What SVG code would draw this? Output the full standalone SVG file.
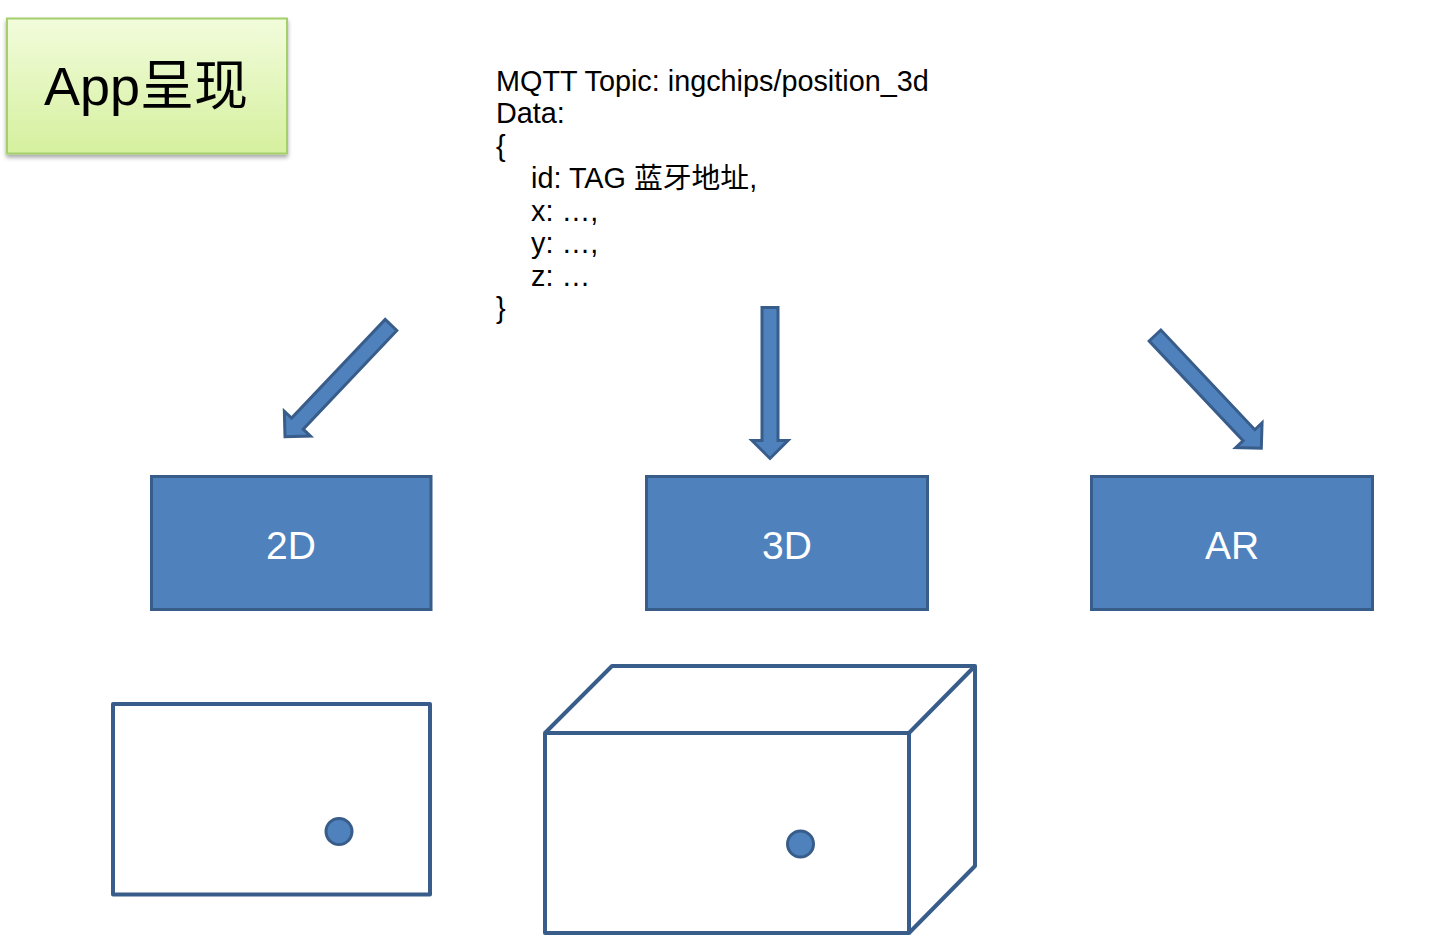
<svg xmlns="http://www.w3.org/2000/svg" width="1432" height="944" viewBox="0 0 1432 944">
<style>
.blk{fill:#4f81bd;stroke:#385d8a;stroke-width:3;stroke-linejoin:miter}
.lbl{font-family:"Liberation Sans",Arial,sans-serif;font-size:39px;fill:#ffffff;text-anchor:middle}
.out{fill:none;stroke:#385d8a;stroke-width:4;stroke-linejoin:round}
.dot{fill:#4f81bd;stroke:#385d8a;stroke-width:3}
.mq{font-family:"Liberation Sans",Arial,"Noto Sans CJK SC",sans-serif;font-size:28.8px;fill:#000000}
</style>
<defs>
<linearGradient id="g" x1="0" y1="0" x2="0" y2="1">
<stop offset="0" stop-color="#f2fcdc"/>
<stop offset="1" stop-color="#d5f09e"/>
</linearGradient>
<filter id="sh" x="-10%" y="-10%" width="120%" height="130%">
<feDropShadow dx="0" dy="3" stdDeviation="2" flood-color="#000" flood-opacity="0.35"/>
</filter>
</defs>
<g id="title">
<rect x="7" y="18.5" width="280" height="135" fill="url(#g)" stroke="#a4cf6c" stroke-width="2" filter="url(#sh)"/>
<text x="146" y="105" font-family="'Liberation Sans','Noto Sans CJK SC',sans-serif" font-size="54" text-anchor="middle" fill="#000">App呈现</text>
</g>
<g id="mqtt">
<text class="mq" x="496" y="90.5">MQTT Topic: ingchips/position_3d</text>
<text class="mq" x="496" y="123">Data:</text>
<text class="mq" x="496" y="155.5">{</text>
<text class="mq" x="531" y="188">id: TAG 蓝牙地址,</text>
<text class="mq" x="531" y="220.5">x: …,</text>
<text class="mq" x="531" y="253">y: …,</text>
<text class="mq" x="531" y="285.5">z: …</text>
<text class="mq" x="496" y="318">}</text>
</g>
<g id="connectors">
<path class="blk" transform="translate(391,325) rotate(133.5)" d="M0,-8 L136,-8 L136,-18 L154,0 L136,18 L136,8 L0,8 Z"/>
<path class="blk" transform="translate(770,307.5) rotate(90)" d="M0,-8 L133,-8 L133,-18 L151,0 L133,18 L133,8 L0,8 Z"/>
<path class="blk" transform="translate(1155,335.5) rotate(46.7)" d="M0,-8 L137,-8 L137,-18 L155,0 L137,18 L137,8 L0,8 Z"/>
</g>
<g id="node-2d">
<rect class="blk" x="151.5" y="476.5" width="279.5" height="133"/>
<text class="lbl" x="291" y="559">2D</text>
</g>
<g id="node-3d">
<rect class="blk" x="646.5" y="476.5" width="281" height="133"/>
<text class="lbl" x="787" y="559">3D</text>
</g>
<g id="node-ar">
<rect class="blk" x="1091.5" y="476.5" width="281" height="133"/>
<text class="lbl" x="1232" y="559">AR</text>
</g>
<g id="plane-2d">
<rect class="out" x="113" y="704" width="317" height="190.5"/>
<circle class="dot" cx="339" cy="831.5" r="13"/>
</g>
<g id="box-3d">
<rect class="out" x="545" y="733" width="364" height="200"/>
<path class="out" d="M545,733 L612,666 L975,666 L909,733 M975,666 L975,866 L909,933"/>
<circle class="dot" cx="800.5" cy="844" r="13"/>
</g>
</svg>
